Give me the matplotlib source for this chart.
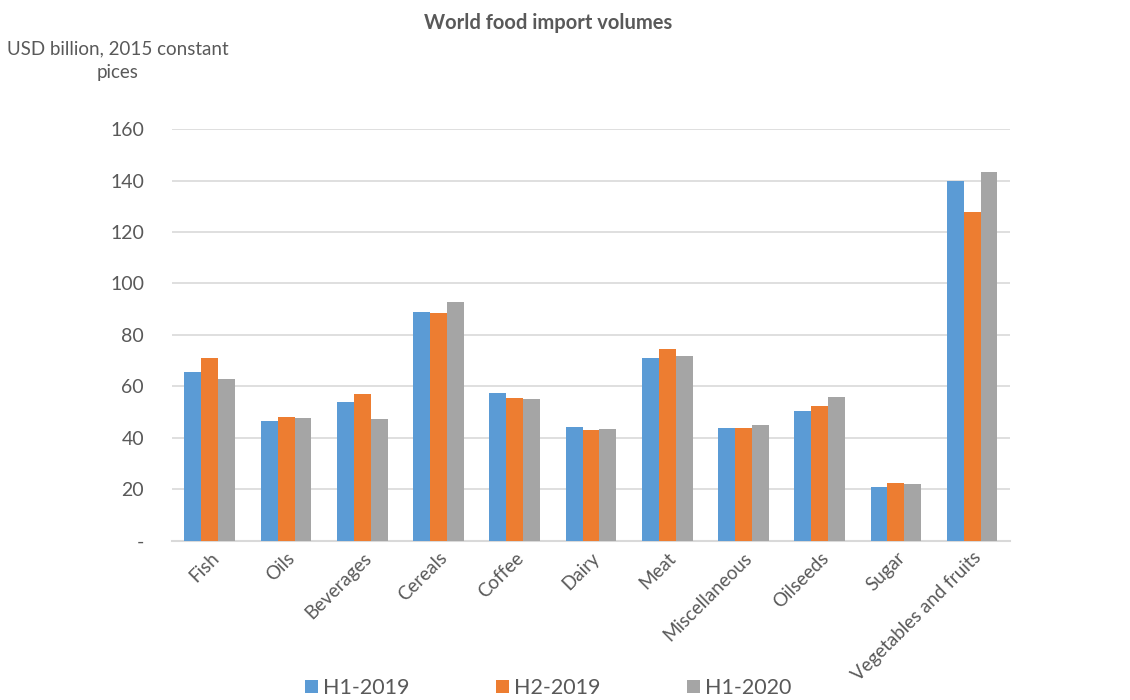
import matplotlib.pyplot as plt
import numpy as np

# Categories and series values (USD billion, 2015 constant prices)
categories = ['Fish', 'Oils', 'Beverages', 'Cereals', 'Coffee', 'Dairy', 'Meat',
              'Miscellaneous', 'Oilseeds', 'Sugar', 'Vegetables and fruits']
h1_2019 = [65.6, 46.4, 53.9, 88.9, 57.3, 44.2, 70.9, 43.8, 50.3, 20.7, 139.9]
h2_2019 = [70.9, 48.1, 56.9, 88.5, 55.6, 43.0, 74.6, 43.7, 52.4, 22.5, 127.7]
h1_2020 = [62.8, 47.7, 47.4, 92.6, 55.0, 43.4, 71.8, 45.0, 55.9, 22.0, 143.4]
series_names = ['H1-2019', 'H2-2019', 'H1-2020']
y_ticks = [0, 20, 40, 60, 80, 100, 120, 140, 160]
y_tick_labels = ['-', '20', '40', '60', '80', '100', '120', '140', '160']

colors = ['#5B9BD5', '#ED7D31', '#A5A5A5']
text_color = '#595959'
grid_color = '#D9D9D9'

plt.rcParams['font.family'] = ['Lato', 'DejaVu Sans']

fig = plt.figure(figsize=(11.3, 7), dpi=100)
ax = fig.add_axes([0.152, 0.2276, 0.742, 0.588])

x = np.arange(len(categories))
bar_width = 0.222
for i, (vals, name) in enumerate(zip([h1_2019, h2_2019, h1_2020], series_names)):
    ax.bar(x + (i - 1) * bar_width, vals, bar_width, color=colors[i], label=name,
           zorder=3)

ax.set_xlim(-0.5, len(categories) - 0.5)
ax.set_ylim(0, 160)
ax.set_yticks(y_ticks)
ax.set_yticklabels(y_tick_labels, fontsize=14, color=text_color)
ax.set_xticks(x)
ax.set_xticklabels(categories, rotation=45, ha='right', va='top',
                   rotation_mode='anchor', fontsize=13.5, color=text_color)
ax.tick_params(axis='both', length=0)
ax.tick_params(axis='y', pad=20)
ax.tick_params(axis='x', pad=6)

ax.grid(axis='y', color=grid_color, linewidth=1.2, zorder=0)
for side in ['top', 'right', 'left']:
    ax.spines[side].set_visible(False)
ax.spines['bottom'].set_color(grid_color)
ax.spines['bottom'].set_linewidth(1.5)

fig.text(0.485, 0.967, 'World food import volumes', ha='center', va='center',
         fontsize=14.5, fontweight='bold', color=text_color)
fig.text(0.104, 0.913, 'USD billion, 2015 constant\npices', ha='center', va='center',
         fontsize=13.5, color=text_color, linespacing=1.45)

fig.legend(loc='center', bbox_to_anchor=(0.485, 0.017), ncol=3, frameon=False,
           fontsize=15.5, labelcolor=text_color, handlelength=0.6, handleheight=0.6,
           handletextpad=0.25, columnspacing=4.0)

plt.savefig('out.png', dpi=100)
